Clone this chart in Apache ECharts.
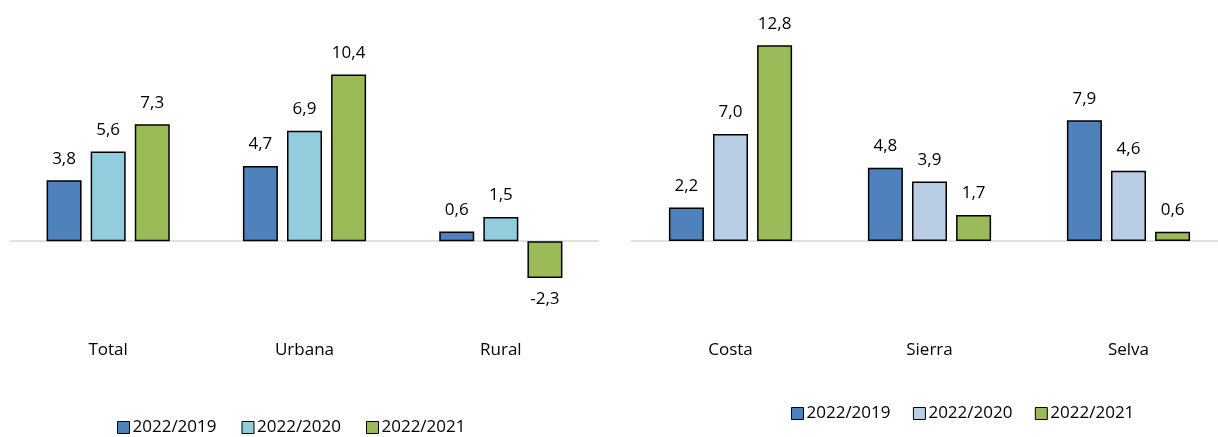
<!DOCTYPE html>
<html>
<head>
<meta charset="utf-8">
<script src="https://cdn.jsdelivr.net/npm/echarts@6/dist/echarts.min.js"></script>
<style>
  html, body { margin: 0; padding: 0; background: #fff; }
  #chart { width: 1218px; height: 437px; }
</style>
</head>
<body>
<div id="chart"></div>
<script>
// datos
const seriesNames = ['2022/2019', '2022/2020', '2022/2021'];

const areaCats = ['Total', 'Urbana', 'Rural'];
const area2019 = [3.8, 4.7, 0.6];
const area2020 = [5.6, 6.9, 1.5];
const area2021 = [7.3, 10.4, -2.3];

const regionCats = ['Costa', 'Sierra', 'Selva'];
const region2019 = [2.2, 4.8, 7.9];
const region2020 = [7.0, 3.9, 4.6];
const region2021 = [12.8, 1.7, 0.6];

const leftColors = ['#4f81bd', '#93cddd', '#9bbb59'];
const rightColors = ['#4f81bd', '#b9cde5', '#9bbb59'];

const FONT = '"Open Sans", sans-serif';

function fmt(v) {
  return v.toFixed(1).replace('.', ',');
}

function makeData(vals) {
  return vals.map(v => ({
    value: v,
    label: { position: v < 0 ? 'bottom' : 'top' }
  }));
}

function makeSeries(name, vals, color, idx, withZero) {
  const s = {
    name: name,
    type: 'bar',
    xAxisIndex: idx,
    yAxisIndex: idx,
    barWidth: 35,
    barGap: '26%',
    data: makeData(vals),
    itemStyle: { color: color, borderColor: '#000', borderWidth: 1.5 },
    label: {
      show: true,
      distance: 13,
      fontFamily: FONT,
      fontSize: 17,
      color: '#000',
      formatter: p => fmt(p.value)
    }
  };
  if (withZero) {
    s.markLine = {
      silent: true,
      symbol: 'none',
      label: { show: false },
      lineStyle: { color: '#d9d9d9', type: 'solid', width: 1.5 },
      data: [{ yAxis: 0 }],
      z: 0
    };
  }
  return s;
}

const chart = echarts.init(document.getElementById('chart'));

const xBase = {
  type: 'category',
  axisLine: { show: false },
  axisTick: { show: false },
  axisLabel: { fontFamily: FONT, fontSize: 17, color: '#000', margin: 8 }
};

const legendBase = {
  itemWidth: 12,
  itemHeight: 12,
  textStyle: { fontFamily: FONT, fontSize: 17, color: '#000', padding: [0, 0, 0, -2] },
  itemStyle: { borderColor: '#000', borderWidth: 1 },
  icon: 'rect'
};

const option = {
  animation: false,
  grid: [
    { left: 10, width: 589, top: 49, bottom: 103, outerBoundsMode: 'none' },
    { left: 631, width: 597, top: 27, bottom: 103, outerBoundsMode: 'none' }
  ],
  legend: [
    Object.assign({ data: seriesNames, left: 112, top: 414, itemGap: 25 }, legendBase),
    Object.assign({ data: seriesNames.map(n => n + ' '), left: 786, top: 400, itemGap: 18 }, legendBase)
  ],
  xAxis: [
    Object.assign({ gridIndex: 0, data: areaCats }, xBase),
    Object.assign({ gridIndex: 1, data: regionCats }, xBase)
  ],
  yAxis: [
    { gridIndex: 0, type: 'value', min: -5.8, max: 12, show: false, splitLine: { show: false } },
    { gridIndex: 1, type: 'value', min: -6.08, max: 14, show: false, splitLine: { show: false } }
  ],
  series: [
    makeSeries(seriesNames[0], area2019, leftColors[0], 0, true),
    makeSeries(seriesNames[1], area2020, leftColors[1], 0, false),
    makeSeries(seriesNames[2], area2021, leftColors[2], 0, false),
    makeSeries(seriesNames[0] + ' ', region2019, rightColors[0], 1, true),
    makeSeries(seriesNames[1] + ' ', region2020, rightColors[1], 1, false),
    makeSeries(seriesNames[2] + ' ', region2021, rightColors[2], 1, false)
  ]
};

chart.setOption(option);
</script>
</body>
</html>
